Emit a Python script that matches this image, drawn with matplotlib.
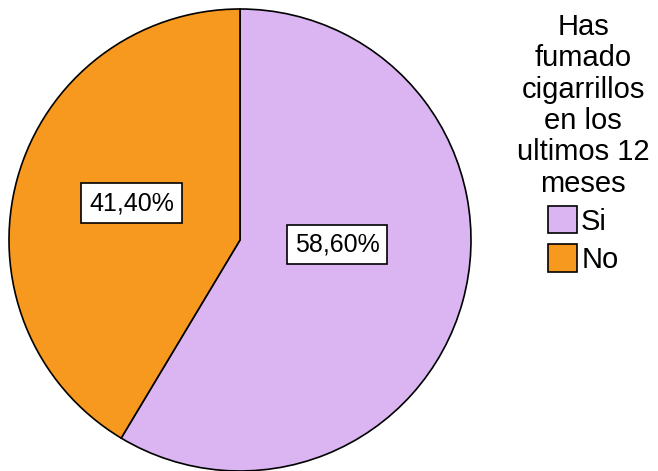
import matplotlib.pyplot as plt
from matplotlib.patches import Patch

plt.rcParams['font.family'] = ['Liberation Sans', 'DejaVu Sans']

labels = ['Si', 'No']
values = [58.60, 41.40]
colors = ['#dbb5f1', '#f7991f']
legend_title = 'Has\nfumado\ncigarrillos\nen los\nultimos 12\nmeses'

fig = plt.figure(figsize=(6.58, 4.71), dpi=100)
ax = fig.add_axes([9 / 658, 0, 462 / 658, 462 / 471])

wedges, texts = ax.pie(values, colors=colors, startangle=90, counterclock=False,
                       wedgeprops=dict(edgecolor='black', linewidth=1.2))

# etiquetas de porcentaje en cajas blancas
label_pos = [(0.42, -0.02), (-0.47, 0.16)]
for v, (x, y) in zip(values, label_pos):
    txt = '{:.2f}%'.format(v).replace('.', ',')
    ax.text(x, y, txt, ha='center', va='center', fontsize=18,
            bbox=dict(facecolor='white', edgecolor='black', linewidth=1.2, pad=5.5))

ax.set_xlim(-1, 1)
ax.set_ylim(-1, 1)
ax.set_aspect('equal')
ax.axis('off')

handles = [Patch(facecolor=c, edgecolor='black', linewidth=1.2) for c in colors]
leg = fig.legend(handles, labels, title=legend_title, loc='upper center',
                 bbox_to_anchor=(583 / 658, 1 - 13 / 471), frameon=False,
                 fontsize=21, title_fontsize=21, handlelength=1.0,
                 handleheight=1.05, handletextpad=0.15, labelspacing=0.3,
                 borderpad=0, borderaxespad=0)
leg.get_title().set_multialignment('center')
leg.get_title().set_linespacing(1.15)

fig.savefig('out.png', dpi=100)
